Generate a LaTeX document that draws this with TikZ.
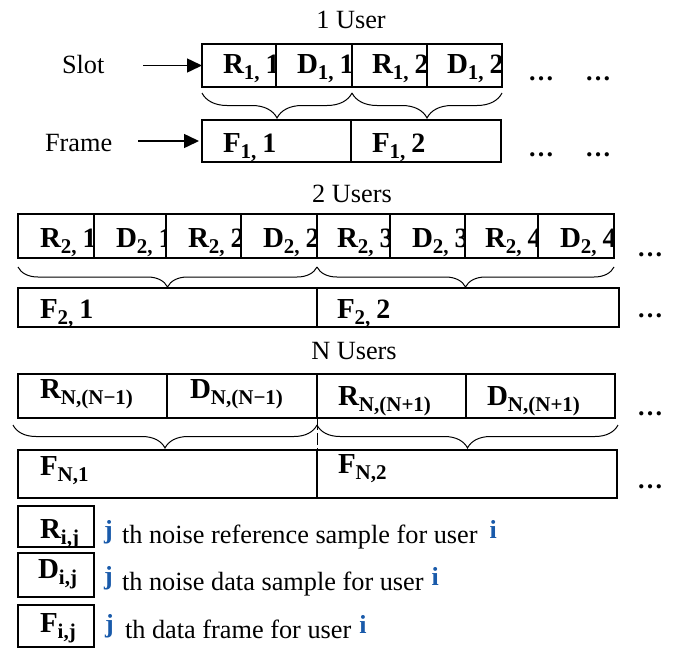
\documentclass[tikz,border=0pt]{standalone}
\usepackage{fontspec}
\setmainfont{Liberation Serif}
\usetikzlibrary{arrows.meta,decorations.pathreplacing,fit}
\definecolor{idxblue}{RGB}{25,90,170}
% symbol with a lowered index and an optional full-size tail
\newcommand\lab[3]{{\fontsize{29}{29}\selectfont #1}\raisebox{-6pt}{\fontsize{21}{21}\selectfont #2}{\fontsize{28}{28}\selectfont #3}}
\newcommand\tl[1]{\hspace{6pt}#1}
\begin{document}
\begin{tikzpicture}[x=1pt,y=-1pt,
  every node/.style={inner sep=0pt, outer sep=0pt},
  txt/.style={font=\fontsize{26.3}{26.3}\selectfont, anchor=base},
  lbl/.style={anchor=base west, inner sep=0pt, font=\bfseries,
    text width={}, text height={}, text depth={}, align=left},
  cell/.style n args={3}{draw, line width=1.3pt, fit={#1},
    path picture={\node[lbl] at ([shift={#2}]path picture bounding box.north west) {#3};}},
  curly/.style={decorate, decoration={brace, mirror, amplitude=#1}, line width=1pt},
  arr/.style={line width=1.5pt, -{Triangle[length=15pt,width=14pt]}},
  dots/.style={font=\fontsize{26}{26}\selectfont\bfseries, anchor=base},
  idx/.style={font=\fontsize{26}{26}\selectfont\bfseries, text=idxblue, anchor=base west},
]
\useasboundingbox (0,0) rectangle (674,648);

% ---- one user ----
\node[txt] (t1) at (351,28) {1 User};
\node[txt, anchor=base west] (slot) at (62,73) {Slot};
\node[txt, anchor=base west] (frame) at (45,151) {Frame};

\node[cell={(202,44) (276,87)}{(21,29)}{\lab{R}{1,}{\tl{1}}}] (r11) {};
\node[cell={(276,44) (352,87)}{(21,29)}{\lab{D}{1,}{\tl{1}}}] (d11) {};
\node[cell={(352,44) (427,87)}{(20,29)}{\lab{R}{1,}{\tl{2}}}] (r12) {};
\node[cell={(427,44) (502,87)}{(20,29)}{\lab{D}{1,}{\tl{2}}}] (d12) {};
\node[cell={(202,120) (351,162)}{(21,32)}{\lab{F}{1,}{\tl{1}}}] (f11) {};
\node[cell={(351,120) (501,162)}{(21,32)}{\lab{F}{1,}{\tl{2}}}] (f12) {};

\draw[arr, shorten <=39pt] (slot.east |- r11.west) -- (r11.west);
\draw[arr, shorten <=26pt, shorten >=3pt] (frame.east |- f11.west) -- (f11.west);

\draw[curly=25pt] ([shift={(0,6)}]r11.south west) -- ([shift={(0,6)}]d11.south east);
\draw[curly=25pt] ([shift={(0,6)}]r12.south west) -- ([shift={(0,6)}]d12.south east);

\node[dots] (s1a) at (541,80) {…};
\node[dots] (s1b) at (598,80) {…};
\node[dots] (f1a) at (541,156) {…};
\node[dots] (f1b) at (598,156) {…};

% ---- two users ----
\node[txt] (t2) at (352,202) {2 Users};
\node[cell={(18,214) (94,258)}{(22,33)}{\lab{R}{2,}{\tl{1}}}] (r21) {};
\node[cell={(94,214) (166,258)}{(22,33)}{\lab{D}{2,}{\tl{1}}}] (d21) {};
\node[cell={(166,214) (241,258)}{(22,33)}{\lab{R}{2,}{\tl{2}}}] (r22) {};
\node[cell={(241,214) (317,258)}{(22,33)}{\lab{D}{2,}{\tl{2}}}] (d22) {};
\node[cell={(317,214) (390,258)}{(20,33)}{\lab{R}{2,}{\tl{3}}}] (r23) {};
\node[cell={(390,214) (465,258)}{(22,33)}{\lab{D}{2,}{\tl{3}}}] (d23) {};
\node[cell={(465,214) (538,258)}{(20,33)}{\lab{R}{2,}{\tl{4}}}] (r24) {};
\node[cell={(538,214) (614,258)}{(22,33)}{\lab{D}{2,}{\tl{4}}}] (d24) {};
\node[cell={(18,288) (317,327)}{(22,30)}{\lab{F}{2,}{\tl{1}}}] (f21) {};
\node[cell={(317,288) (619,327)}{(20,30)}{\lab{F}{2,}{\tl{2}}}] (f22) {};

\draw[curly=20pt] ([shift={(0,9)}]r21.south west) -- ([shift={(0,9)}]d22.south east);
\draw[curly=20pt] ([shift={(0,9)}]r23.south west) -- ([shift={(0,9)}]d24.south east);

\node[dots] (s2) at (650,256) {…};
\node[dots] (f2) at (650,317) {…};

% ---- N users ----
\node[txt] (tn) at (354,359) {N Users};
\node[cell={(18,374) (167,418)}{(22,24)}{\lab{R}{N,(N−1)}{}}] (rn1) {};
\node[cell={(167,374) (317,418)}{(23,24)}{\lab{D}{N,(N−1)}{}}] (dn1) {};
\node[cell={(317,374) (466,418)}{(21,31)}{\lab{R}{N,(N+1)}{}}] (rn2) {};
\node[cell={(466,374) (615,418)}{(21,31)}{\lab{D}{N,(N+1)}{}}] (dn2) {};
\node[cell={(18,450) (317,498)}{(22,25)}{\lab{F}{N,1}{}}] (fn1) {};
\node[cell={(317,450) (617,498)}{(21,23)}{\lab{F}{N,2}{}}] (fn2) {};

\draw[curly=23pt] ([shift={(-5,7)}]rn1.south west) -- ([shift={(0,7)}]dn1.south east);
\draw[curly=23pt] ([shift={(0,7)}]rn2.south west) -- ([shift={(3,7)}]dn2.south east);
\draw[line width=1pt, dash pattern=on 12pt off 3pt] (rn2.south west) -- (fn2.north west);

\node[dots] (sn) at (650,415) {…};
\node[dots] (fn) at (650,488) {…};

% ---- legend ----
\node[cell={(18,506) (94,547)}{(22,32)}{\lab{R}{i,j}{}}] (kr) {};
\node[cell={(18,553) (94,597)}{(20,25)}{\lab{D}{i,j}{}}] (kd) {};
\node[cell={(18,605) (94,647)}{(22,27)}{\lab{F}{i,j}{}}] (kf) {};

\node[idx] (jr) at (104,538) {j};
\node[txt, anchor=base west] (lr) at (122,543) {th noise reference sample for user};
\node[idx] (ir) at ([shift={(12,-5)}]lr.base east) {i};
\node[idx] (jd) at (104,584) {j};
\node[txt, anchor=base west] (ld) at (122,590) {th noise data sample for user};
\node[idx] (id) at ([shift={(8,-5)}]ld.base east) {i};
\node[idx] (jf) at (105,632) {j};
\node[txt, anchor=base west] (lf) at (125,638) {th data frame for user};
\node[idx] (if) at ([shift={(8,-5)}]lf.base east) {i};
\end{tikzpicture}
\end{document}
